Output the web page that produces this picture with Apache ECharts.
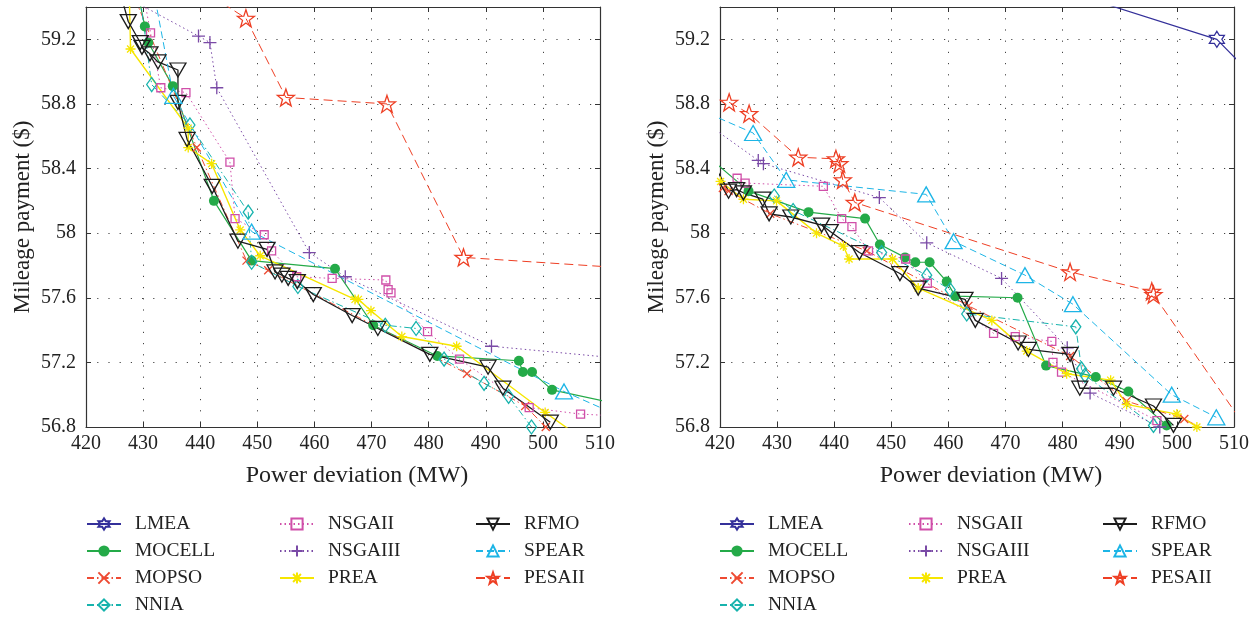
<!DOCTYPE html>
<html>
<head>
<meta charset="utf-8">
<script src="https://cdn.jsdelivr.net/npm/echarts@6/dist/echarts.min.js"></script>
<style>
html,body{margin:0;padding:0;background:#fff;}
#c{width:1259px;height:618px;}
</style>
</head>
<body>
<div id="c"></div>
<script>
// ---------- axis ranges / ticks ----------
const X_MIN = 420, X_MAX = 510, X_STEP = 10;
const Y_MIN = 56.8, Y_MAX = 59.4, Y_STEP = 0.4;
const X_NAME = 'Power deviation (MW)';
const Y_NAME = 'Mileage payment ($)';

// ---------- series names ----------
const NAMES = ['LMEA','MOCELL','MOPSO','NNIA','NSGAII','NSGAIII','PREA','RFMO','SPEAR','PESAII'];

// ---------- left chart data [power deviation, mileage payment] ----------
const L_LMEA = [];
const L_MOCELL = [[429.0,59.50],[430.3,59.28],[430.9,59.18],[435.2,58.91],[442.4,58.20],[449.0,57.83],[463.6,57.78],[470.3,57.43],[481.5,57.24],[495.8,57.21],[496.5,57.14],[498.1,57.14],[501.6,57.03],[512.0,56.95]];
const L_MOPSO = [[428.6,59.45],[439.4,58.53],[448.1,57.83],[451.9,57.77],[486.7,57.13],[496.9,56.93],[500.5,56.80]];
const L_NNIA = [[429.5,59.45],[431.5,58.92],[438.2,58.67],[448.4,58.13],[449.0,57.82],[457.1,57.67],[472.4,57.43],[477.8,57.41],[482.7,57.22],[489.7,57.07],[494.0,56.99],[498.0,56.80]];
const L_NSGAII = [[430.2,59.45],[431.3,59.24],[433.1,58.90],[437.5,58.87],[445.2,58.44],[446.1,58.09],[451.2,57.99],[452.5,57.89],[456.9,57.73],[463.1,57.72],[472.5,57.71],[472.9,57.65],[473.4,57.63],[479.8,57.39],[485.4,57.22],[497.6,56.92],[506.6,56.88],[512.0,56.87]];
const L_NSGAIII = [[426.6,59.47],[439.7,59.22],[441.7,59.18],[442.9,58.90],[459.1,57.88],[465.4,57.73],[491.0,57.30],[512.0,57.23]];
const L_PREA = [[427.6,59.45],[427.8,59.14],[437.9,58.65],[437.9,58.53],[442.0,58.43],[447.0,58.02],[450.5,57.86],[467.1,57.59],[467.7,57.59],[469.9,57.52],[475.3,57.36],[484.9,57.30],[500.4,56.89],[504.8,56.78]];
const L_RFMO = [[426.3,59.45],[427.4,59.31],[429.5,59.18],[429.8,59.15],[431.2,59.11],[432.6,59.06],[436.1,59.01],[436.1,58.81],[437.7,58.58],[442.1,58.29],[446.6,57.95],[451.7,57.90],[453.1,57.76],[454.3,57.74],[455.4,57.72],[457.0,57.70],[459.8,57.62],[466.6,57.49],[471.1,57.41],[480.2,57.25],[490.4,57.17],[493.0,57.04],[501.3,56.83]];
const L_SPEAR = [[432.1,59.45],[435.3,58.85],[449.0,58.01],[503.7,57.02],[512.0,56.89]];
const L_PESAII = [[441.9,59.47],[448.0,59.33],[455.0,58.84],[472.7,58.80],[486.1,57.85],[512.0,57.79]];

// ---------- right chart data ----------
const R_LMEA = [[482.9,59.47],[507.0,59.20],[512.0,59.02]];
const R_MOCELL = [[419.0,58.44],[425.0,58.26],[435.5,58.13],[445.4,58.09],[448.0,57.93],[452.4,57.85],[454.2,57.82],[456.7,57.82],[459.7,57.70],[461.2,57.61],[472.1,57.60],[477.1,57.18],[485.8,57.11],[491.5,57.02],[498.2,56.81]];
const R_MOPSO = [[420.5,58.28],[421.5,58.26],[428.8,58.12],[445.7,57.89],[463.5,57.55],[481.3,57.24],[491.2,56.96],[501.3,56.85],[505.0,56.78]];
const R_NNIA = [[429.5,58.23],[432.8,58.14],[448.3,57.88],[456.2,57.74],[460.3,57.65],[463.2,57.50],[482.3,57.42],[483.3,57.16],[483.9,57.12],[495.9,56.81]];
const R_NSGAII = [[423.0,58.34],[424.4,58.31],[438.1,58.29],[441.3,58.09],[443.1,58.04],[446.0,57.89],[452.5,57.84],[456.3,57.69],[467.9,57.38],[471.7,57.36],[478.1,57.33],[478.3,57.20],[479.8,57.14],[496.5,56.84]];
const R_NSGAIII = [[418.0,58.67],[426.7,58.45],[427.6,58.43],[447.9,58.22],[456.2,57.94],[469.3,57.72],[480.8,57.29],[484.8,57.01],[497.0,56.80]];
const R_PREA = [[420.1,58.32],[424.1,58.21],[429.9,58.20],[436.9,58.00],[441.6,57.92],[442.6,57.84],[450.2,57.84],[454.7,57.66],[467.6,57.46],[473.7,57.27],[480.7,57.13],[488.4,57.09],[491.2,56.94],[500.0,56.88],[503.5,56.80]];
const R_RFMO = [[419.0,58.42],[421.5,58.26],[422.9,58.27],[424.1,58.25],[427.5,58.21],[428.6,58.12],[432.4,58.10],[437.8,58.05],[439.3,58.01],[444.4,57.88],[451.5,57.75],[454.7,57.66],[462.9,57.59],[464.7,57.46],[472.2,57.32],[474.0,57.28],[481.3,57.25],[483.0,57.04],[488.9,57.04],[495.9,56.93],[499.4,56.81]];
const R_SPEAR = [[418.0,58.74],[425.8,58.62],[431.6,58.33],[456.1,58.24],[460.9,57.95],[473.4,57.74],[481.8,57.56],[499.1,57.00],[506.9,56.86]];
const R_PESAII = [[421.6,58.81],[425.1,58.74],[433.7,58.47],[440.3,58.46],[440.9,58.43],[441.5,58.33],[443.6,58.19],[481.3,57.76],[495.6,57.64],[495.9,57.62],[512.0,56.80]];

const LEFT = {LMEA:L_LMEA,MOCELL:L_MOCELL,MOPSO:L_MOPSO,NNIA:L_NNIA,NSGAII:L_NSGAII,NSGAIII:L_NSGAIII,PREA:L_PREA,RFMO:L_RFMO,SPEAR:L_SPEAR,PESAII:L_PESAII};
const RIGHT = {LMEA:R_LMEA,MOCELL:R_MOCELL,MOPSO:R_MOPSO,NNIA:R_NNIA,NSGAII:R_NSGAII,NSGAIII:R_NSGAIII,PREA:R_PREA,RFMO:R_RFMO,SPEAR:R_SPEAR,PESAII:R_PESAII};

// ---------- styles ----------
const P_HEX = 'path://M5,0L6.443,2.5L9.33,2.5L7.887,5L9.33,7.5L6.443,7.5L5,10L3.557,7.5L0.67,7.5L2.113,5L0.67,2.5L3.557,2.5Z';
const P_STAR = 'path://M5,0L6.176,3.382L9.755,3.455L6.902,5.618L7.939,9.045L5,7L2.061,9.045L3.098,5.618L0.245,3.455L3.824,3.382Z';
const P_DOWN = 'path://M0,0L10,0L5,8.66Z';
const P_UP = 'path://M5,0L10,8.66L0,8.66Z';
const P_PLUS = 'path://M5,0L5,10M0,5L10,5';
const P_X = 'path://M0,0L10,10M10,0L0,10';
const P_AST = 'path://M5,0L5,10M0,5L10,5M1.5,1.5L8.5,8.5M8.5,1.5L1.5,8.5';
const DASH = [7,4], DASHDOT = [7,3,1.5,3], DOT = [1.5,3];
const STY = {
  LMEA:   {c:'#34309a', sym:P_HEX,  size:[15,16], fill:false, lt:'solid', lw:1.2},
  MOCELL: {c:'#24aa48', sym:'circle', size:10, fill:true, lt:'solid', lw:1.2},
  MOPSO:  {c:'#ee4a32', sym:P_X, size:8, fill:false, lt:DASHDOT, lw:1},
  NNIA:   {c:'#17b3ad', sym:'diamond', size:[10,14], fill:false, lt:DASHDOT, lw:1},
  NSGAII: {c:'#d04fa9', sym:'rect', size:8, fill:false, lt:DOT, lw:1},
  NSGAIII:{c:'#7a4aa6', sym:P_PLUS, size:13, fill:false, lt:DOT, lw:1},
  PREA:   {c:'#f6e600', sym:P_AST, size:10, fill:false, lt:'solid', lw:1.4},
  RFMO:   {c:'#1c1c1c', sym:P_DOWN, size:[16,14], fill:false, lt:'solid', lw:1.3},
  SPEAR:  {c:'#1db5e6', sym:P_UP, size:[17,15], fill:false, lt:DASH, lw:1},
  PESAII: {c:'#ee3f24', sym:P_STAR, size:17, fill:false, lt:[9,5], lw:1}
};

const FONT = 'Liberation Serif';
const TXT = '#222';

function mkSeries(name, data, gi) {
  const s = STY[name];
  return {
    name: name, type: 'line', xAxisIndex: gi*2, yAxisIndex: gi*2,
    data: data, clip: true, showAllSymbol: true, animation: false,
    symbol: s.sym, symbolSize: s.size,
    itemStyle: {color: s.fill ? s.c : 'rgba(255,255,255,0)', borderColor: s.c, borderWidth: s.fill ? 0 : 1.3},
    lineStyle: {color: s.c, width: s.lw, type: s.lt},
    emphasis: {disabled: true}
  };
}

const grids = [
  {left: 86, right: 659, top: 7, bottom: 191},
  {left: 720, right: 25, top: 7, bottom: 191}
];

const xAxes = [], yAxes = [];
grids.forEach((g, gi) => {
  xAxes.push({
    type: 'value', gridIndex: gi, min: X_MIN, max: X_MAX, interval: X_STEP, position: 'bottom',
    name: X_NAME, nameLocation: 'middle', nameGap: 37,
    nameTextStyle: {fontFamily: FONT, fontSize: 24, color: TXT, padding: [0,0,0,28]},
    axisLine: {show: true, onZero: false, lineStyle: {color: '#333', width: 1.2}},
    axisTick: {show: true, inside: true, length: 5, lineStyle: {color: '#333'}},
    axisLabel: {fontFamily: FONT, fontSize: 20, color: TXT, margin: 7},
    splitLine: {show: true, lineStyle: {color: '#444', type: [1.2, 10], width: 1}}
  });
  xAxes.push({
    type: 'value', gridIndex: gi, min: X_MIN, max: X_MAX, interval: X_STEP, position: 'top',
    axisLine: {show: true, onZero: false, lineStyle: {color: '#333', width: 1.2}},
    axisTick: {show: true, inside: true, length: 5, lineStyle: {color: '#333'}},
    axisLabel: {show: false}, splitLine: {show: false}
  });
  yAxes.push({
    type: 'value', gridIndex: gi, min: Y_MIN, max: Y_MAX, interval: Y_STEP, position: 'left',
    name: Y_NAME, nameLocation: 'middle', nameGap: 52, nameRotate: 90,
    nameTextStyle: {fontFamily: FONT, fontSize: 23, color: TXT},
    axisLine: {show: true, onZero: false, lineStyle: {color: '#333', width: 1.2}},
    axisTick: {show: true, inside: true, length: 5, lineStyle: {color: '#333'}},
    axisLabel: {fontFamily: FONT, fontSize: 20, color: TXT, margin: 10, showMaxLabel: false,
      formatter: v => String(+(+v).toFixed(1))},
    splitLine: {show: true, lineStyle: {color: '#444', type: [1.2, 10], width: 1}}
  });
  yAxes.push({
    type: 'value', gridIndex: gi, min: Y_MIN, max: Y_MAX, interval: Y_STEP, position: 'right',
    axisLine: {show: true, onZero: false, lineStyle: {color: '#333', width: 1.2}},
    axisTick: {show: true, inside: true, length: 5, lineStyle: {color: '#333'}},
    axisLabel: {show: false}, splitLine: {show: false}
  });
});

const series = [];
NAMES.forEach(n => series.push(mkSeries(n, LEFT[n], 0)));
NAMES.forEach(n => series.push(mkSeries(n, RIGHT[n], 1)));

const COLS = [['LMEA','MOCELL','MOPSO','NNIA'], ['NSGAII','NSGAIII','PREA'], ['RFMO','SPEAR','PESAII']];
const LEG_X = [[86, 279, 475], [719, 908, 1102]];
const legends = [];
LEG_X.forEach(xs => xs.forEach((x, ci) => {
  legends.push({
    orient: 'vertical', left: x, top: 514, height: 140, padding: 0,
    data: COLS[ci],
    itemWidth: 34, itemHeight: 14, itemGap: 7, selectedMode: false,
    textStyle: {fontFamily: FONT, fontSize: 19.5, color: TXT, lineHeight: 20, padding: [0,0,0,9]}
  });
}));

const chart = echarts.init(document.getElementById('c'), null, {renderer: 'canvas'});
chart.setOption({
  animation: false,
  backgroundColor: '#fff',
  grid: grids,
  xAxis: xAxes,
  yAxis: yAxes,
  legend: legends,
  series: series
});
</script>
</body>
</html>
